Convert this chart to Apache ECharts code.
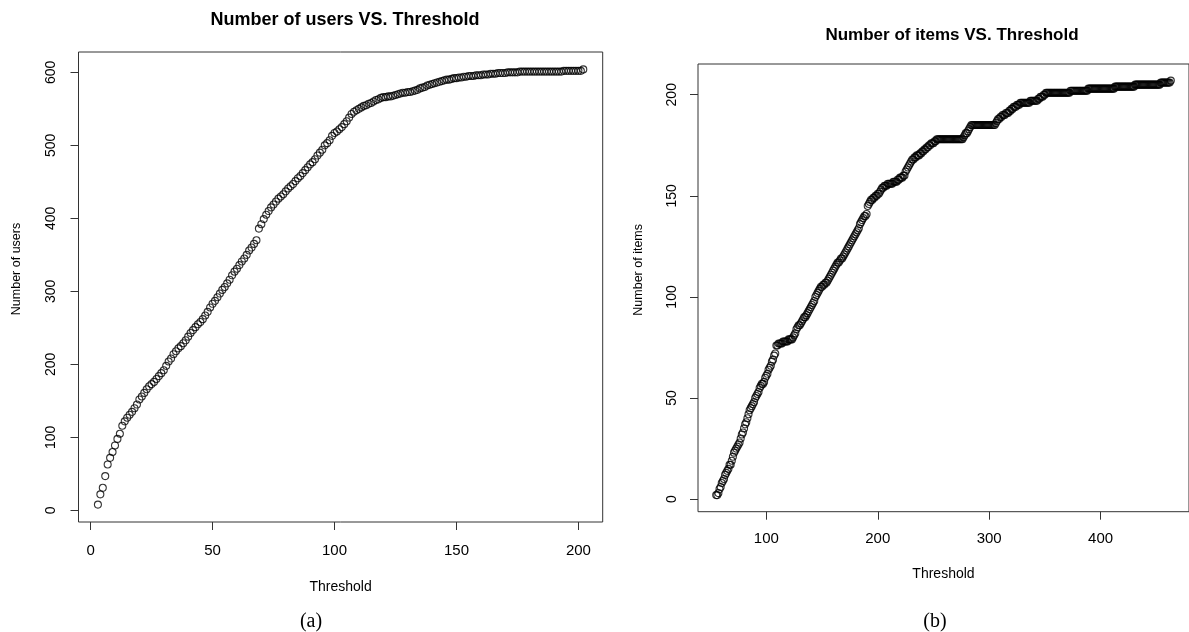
<!DOCTYPE html>
<html>
<head>
<meta charset="utf-8">
<title>Number of users / items VS. Threshold</title>
<script src="https://cdn.jsdelivr.net/npm/echarts@6/dist/echarts.min.js"></script>
<style>
  html, body { margin: 0; padding: 0; background: #fff; }
  #chart { width: 1189px; height: 632px; }
</style>
</head>
<body>
<div id="chart"></div>
<script>
// (a) users retained for each threshold value, threshold = 3 .. 202
const userThresholdStart = 3;
const userCounts = [
  8, 22, 31, 47, 63, 72, 80, 89, 98, 105,
  116, 122, 127, 131, 135, 140, 145, 152, 156, 161,
  166, 170, 173, 176, 180, 184, 188, 192, 198, 204,
  208, 214, 218, 222, 225, 229, 233, 238, 243, 247,
  251, 255, 258, 262, 267, 272, 278, 283, 287, 292,
  297, 302, 306, 311, 316, 322, 327, 331, 336, 341,
  345, 350, 356, 360, 365, 370, 386, 392, 399, 405,
  410, 415, 419, 423, 427, 430, 433, 437, 441, 444,
  447, 451, 455, 458, 462, 466, 470, 474, 477, 481,
  486, 490, 494, 500, 503, 507, 513, 517, 519, 522,
  525, 529, 533, 538, 543, 546, 548, 550, 552, 554,
  555, 557, 558, 560, 562, 563, 565, 566, 566, 567,
  567, 568, 569, 570, 571, 572, 572, 573, 573, 574,
  575, 576, 578, 579, 580, 582, 583, 584, 585, 586,
  587, 588, 589, 590, 590, 591, 592, 592, 593, 593,
  594, 594, 595, 595, 595, 596, 596, 596, 597, 597,
  597, 598, 598, 598, 599, 599, 599, 599, 600, 600,
  600, 600, 600, 601, 601, 601, 601, 601, 601, 601,
  601, 601, 601, 601, 601, 601, 601, 601, 601, 601,
  601, 602, 602, 602, 602, 602, 602, 602, 602, 604
];

// (b) items retained for each threshold value, threshold = 55 .. 463
const itemThresholdStart = 55;
const itemCounts = [
  2, 2, 3, 5, 6, 8, 9, 10, 12, 13,
  14, 15, 17, 17, 19, 21, 23, 24, 25, 26,
  27, 28, 30, 32, 33, 35, 37, 38, 40, 42,
  44, 45, 46, 47, 48, 50, 51, 52, 53, 55,
  56, 57, 57, 58, 60, 61, 62, 64, 65, 66,
  68, 69, 71, 72, 76, 76, 77, 77, 77, 77,
  78, 78, 78, 78, 78, 79, 79, 79, 79, 80,
  81, 82, 84, 85, 86, 86, 87, 88, 89, 90,
  90, 91, 92, 93, 94, 95, 96, 97, 98, 100,
  101, 102, 103, 104, 105, 105, 106, 106, 107, 107,
  108, 109, 110, 111, 112, 113, 114, 115, 116, 117,
  117, 118, 119, 119, 120, 121, 122, 123, 124, 125,
  126, 127, 128, 129, 130, 131, 132, 133, 134, 136,
  137, 138, 139, 140, 140, 141, 145, 146, 147, 148,
  148, 149, 149, 150, 150, 151, 151, 152, 153, 154,
  154, 155, 155, 155, 156, 156, 156, 156, 156, 157,
  157, 157, 157, 158, 158, 159, 159, 159, 160, 160,
  162, 163, 164, 165, 166, 167, 168, 168, 169, 169,
  170, 170, 170, 171, 171, 172, 172, 173, 173, 174,
  174, 175, 175, 176, 176, 176, 177, 177, 178, 178,
  178, 178, 178, 178, 178, 178, 178, 178, 178, 178,
  178, 178, 178, 178, 178, 178, 178, 178, 178, 178,
  178, 178, 179, 180, 181, 181, 182, 183, 184, 185,
  185, 185, 185, 185, 185, 185, 185, 185, 185, 185,
  185, 185, 185, 185, 185, 185, 185, 185, 185, 185,
  185, 186, 187, 188, 188, 189, 189, 190, 190, 190,
  191, 191, 191, 192, 192, 193, 193, 194, 194, 194,
  195, 195, 195, 196, 196, 196, 196, 196, 196, 196,
  196, 196, 197, 197, 197, 197, 197, 197, 197, 198,
  198, 199, 199, 199, 200, 200, 201, 201, 201, 201,
  201, 201, 201, 201, 201, 201, 201, 201, 201, 201,
  201, 201, 201, 201, 201, 201, 201, 201, 202, 202,
  202, 202, 202, 202, 202, 202, 202, 202, 202, 202,
  202, 202, 202, 202, 203, 203, 203, 203, 203, 203,
  203, 203, 203, 203, 203, 203, 203, 203, 203, 203,
  203, 203, 203, 203, 203, 203, 203, 203, 204, 204,
  204, 204, 204, 204, 204, 204, 204, 204, 204, 204,
  204, 204, 204, 204, 204, 204, 205, 205, 205, 205,
  205, 205, 205, 205, 205, 205, 205, 205, 205, 205,
  205, 205, 205, 205, 205, 205, 205, 205, 205, 206,
  206, 206, 206, 206, 206, 206, 206, 206, 207
];

// tick positions of each axis
const userXTicks = [0, 50, 100, 150, 200];
const userYTicks = [0, 100, 200, 300, 400, 500, 600];
const itemXTicks = [100, 200, 300, 400];
const itemYTicks = [0, 50, 100, 150, 200];

const userPoints = userCounts.map((v, i) => [userThresholdStart + i, v]);
const itemPoints = itemCounts.map((v, i) => [itemThresholdStart + i, v]);

// base-graphics style: axis range padded by 4% of the data span
const padMin = e => e.min - 0.04 * (e.max - e.min);
const padMax = e => e.max + 0.04 * (e.max - e.min);

const SANS = '"Liberation Sans", Arial, Helvetica, sans-serif';
const SERIF = '"Liberation Serif", "Times New Roman", serif';
const INK = '#000';
const FRAME = '#333';

function xAxisFor(gridIndex, ticks, labelMargin, nameGap) {
  return {
    type: 'value', gridIndex, min: padMin, max: padMax, position: 'bottom',
    name: 'Threshold', nameLocation: 'middle', nameGap,
    nameTextStyle: { fontFamily: SANS, fontSize: 14, color: INK },
    splitLine: { show: false },
    axisLine: { show: false, onZero: false },
    axisTick: { show: true, length: 8, customValues: ticks, lineStyle: { color: FRAME, width: 1 } },
    axisLabel: { customValues: ticks, margin: labelMargin, fontFamily: SANS, fontSize: 15, color: INK }
  };
}

function yAxisFor(gridIndex, ticks, name, labelMargin, nameGap) {
  return {
    type: 'value', gridIndex, min: padMin, max: padMax, position: 'left',
    name, nameLocation: 'middle', nameGap, nameRotate: 90,
    nameTextStyle: { fontFamily: SANS, fontSize: 12.5, color: INK, padding: [0, 0, 0, 36] },
    splitLine: { show: false },
    axisLine: { show: false, onZero: false },
    axisTick: { show: true, length: 8, customValues: ticks, lineStyle: { color: FRAME, width: 1 } },
    axisLabel: { customValues: ticks, rotate: 90, margin: labelMargin, fontFamily: SANS, fontSize: 14, color: INK }
  };
}

const hollowCircle = {
  type: 'scatter', symbol: 'circle', symbolSize: 7,
  itemStyle: { color: 'rgba(0,0,0,0)', borderColor: INK, borderWidth: 1.1 },
  emphasis: { disabled: true }
};

const chart = echarts.init(document.getElementById('chart'), null, { renderer: 'canvas' });
chart.setOption({
  animation: false,
  backgroundColor: '#fff',
  title: [
    { text: 'Number of users VS. Threshold', left: 340, top: 6, textAlign: 'center',
      textStyle: { fontFamily: SANS, fontWeight: 'bold', fontSize: 18, color: INK } },
    { text: 'Number of items VS. Threshold', left: 947, top: 22, textAlign: 'center',
      textStyle: { fontFamily: SANS, fontWeight: 'bold', fontSize: 17, color: INK } },
    { text: '(a)', left: 306, top: 607, textAlign: 'center',
      textStyle: { fontFamily: SERIF, fontWeight: 'normal', fontSize: 20, color: INK } },
    { text: '(b)', left: 930, top: 607, textAlign: 'center',
      textStyle: { fontFamily: SERIF, fontWeight: 'normal', fontSize: 20, color: INK } }
  ],
  grid: [
    { left: 78.5, top: 52, right: 586.3, bottom: 110, show: true,
      borderColor: FRAME, borderWidth: 1, backgroundColor: 'transparent' },
    { left: 698, top: 64, right: -8.4, bottom: 120.3, show: true,
      borderColor: FRAME, borderWidth: 1, backgroundColor: 'transparent' }
  ],
  xAxis: [
    xAxisFor(0, userXTicks, 21, 58),
    xAxisFor(1, itemXTicks, 20, 55)
  ],
  yAxis: [
    yAxisFor(0, userYTicks, 'Number of users', 20, 55),
    yAxisFor(1, itemYTicks, 'Number of items', 19, 53)
  ],
  series: [
    Object.assign({ name: 'users', xAxisIndex: 0, yAxisIndex: 0, data: userPoints }, hollowCircle),
    Object.assign({ name: 'items', xAxisIndex: 1, yAxisIndex: 1, data: itemPoints }, hollowCircle)
  ]
});
</script>
</body>
</html>
